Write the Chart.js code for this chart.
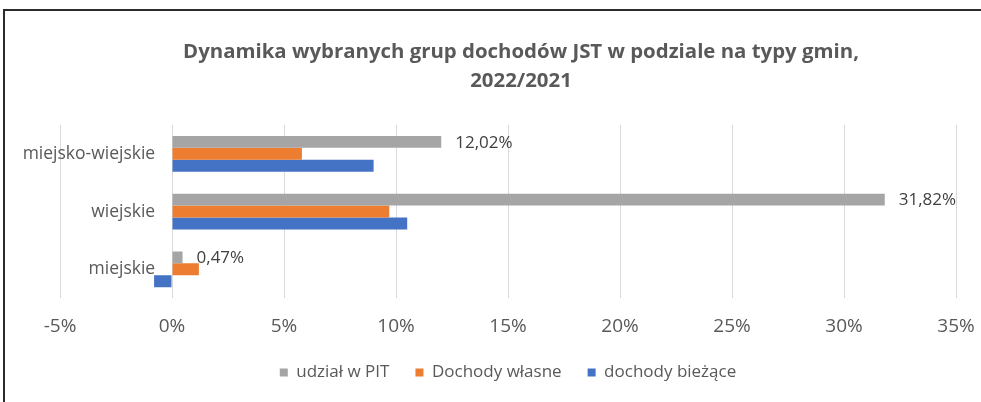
<!DOCTYPE html>
<html lang="pl">
<head>
<meta charset="utf-8">
<script src="https://cdn.jsdelivr.net/npm/chart.js@4"></script>
<style>
  html, body { margin: 0; padding: 0; background: #fff; overflow: hidden; }
  #wrap { position: relative; width: 981px; height: 402px; }
  #frame { position: absolute; left: 3px; top: 9px; width: 1000px; height: 420px;
           border-left: 2px solid #2b2b2b; border-top: 2px solid #2b2b2b; pointer-events: none; }
  canvas { position: absolute; left: 0; top: 0; }
</style>
</head>
<body>
<div id="wrap">
  <canvas id="chart" width="981" height="402"></canvas>
  <div id="frame"></div>
</div>
<script>
// dane
const categories = ['miejsko-wiejskie', 'wiejskie', 'miejskie'];
const seriesNames = ['udział w PIT', 'Dochody własne', 'dochody bieżące'];
const udzialPit = [12.02, 31.82, 0.47];
const dochodyWlasne = [5.8, 9.7, 1.2];
const dochodyBiezace = [9.0, 10.5, -0.8];
const xMin = -5;
const xMax = 35;
const xStep = 5;

const colors = ['#A5A5A5', '#ED7D31', '#4472C4'];
const FONT = '"Open Sans", Lato, sans-serif';

// etykiety danych tylko dla serii "udział w PIT"
const pitLabels = {
    id: 'pitLabels',
    afterLayout(chart) {
        // tytuł w Excelu jest wyśrodkowany na całym obiekcie wykresu, nie na obszarze kreślenia
        chart.titleBlock.left += 13;
        chart.titleBlock.right += 13;
    },
    afterDatasetsDraw(chart) {
        const ctx = chart.ctx;
        const meta = chart.getDatasetMeta(0);
        ctx.save();
        ctx.font = '17px ' + FONT;
        ctx.fillStyle = '#404040';
        ctx.textAlign = 'left';
        ctx.textBaseline = 'middle';
        meta.data.forEach((bar, i) => {
            const txt = udzialPit[i].toFixed(2).replace('.', ',') + '%';
            ctx.fillText(txt, bar.x + 14, bar.y + 1);
        });
        ctx.restore();
    }
};

new Chart(document.getElementById('chart').getContext('2d'), {
    type: 'bar',
    data: {
        labels: categories,
        datasets: [
            { label: seriesNames[0], data: udzialPit, backgroundColor: colors[0] },
            { label: seriesNames[1], data: dochodyWlasne, backgroundColor: colors[1] },
            { label: seriesNames[2], data: dochodyBiezace, backgroundColor: colors[2] }
        ]
    },
    options: {
        indexAxis: 'y',
        responsive: false,
        animation: false,
        categoryPercentage: 0.62,
        barPercentage: 1.0,
        layout: { padding: { left: 60, right: 25, top: 10, bottom: 11 } },
        plugins: {
            title: {
                display: true,
                text: ['Dynamika wybranych grup dochodów JST w podziale na typy gmin,', '2022/2021'],
                color: '#595959',
                font: { family: FONT, size: 20.4, weight: 'bold', lineHeight: 1.42 },
                padding: { top: 27.5, bottom: 29.5 }
            },
            legend: {
                position: 'bottom',
                labels: {
                    boxWidth: 8,
                    boxHeight: 8,
                    padding: 26,
                    color: '#595959',
                    font: { family: FONT, size: 17 }
                }
            },
            tooltip: { enabled: false }
        },
        scales: {
            x: {
                min: xMin,
                max: xMax,
                ticks: {
                    stepSize: xStep,
                    color: '#595959',
                    padding: 0,
                    font: { family: FONT, size: 19 },
                    callback: v => v + '%'
                },
                grid: { color: '#D9D9D9', tickLength: 17, tickColor: 'transparent' },
                border: { display: false }
            },
            y: {
                // etykiety kategorii przy osi 0%, z odstępem jak w Excelu
                position: { x: -0.75 },
                ticks: {
                    color: '#595959',
                    font: { family: FONT, size: 17.5 }
                },
                grid: { display: false },
                border: { display: false }
            }
        }
    },
    plugins: [pitLabels]
});
</script>
</body>
</html>
